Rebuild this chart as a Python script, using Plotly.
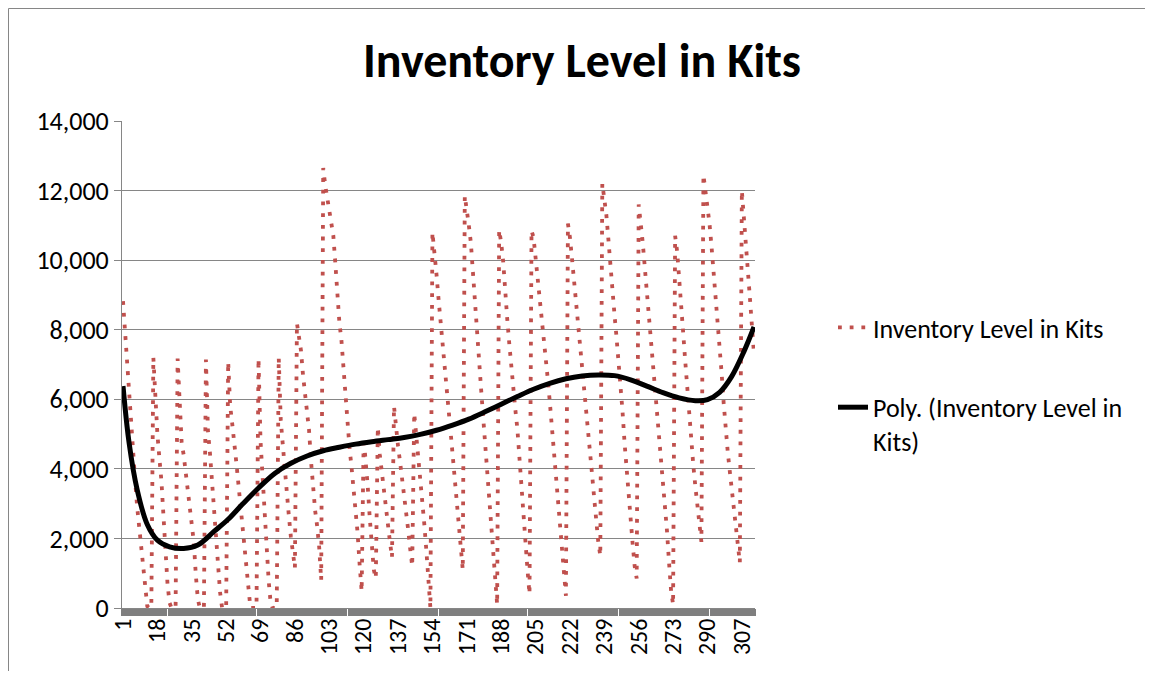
import plotly.graph_objects as go

days = list(range(1, 314))

inventory = [
    8820, 7900, 7200, 6300, 5500, 4500, 3650, 2900, 2300, 1800,
    1150, 500, 50, 0, 0, 7200, 5950, 5000, 4300, 3650,
    2650, 1550, 700, 150, 0, 0, 0, 7170, 5700, 4750,
    4400, 3900, 3300, 2850, 2300, 1900, 950, 250, 0, 0,
    0, 7140, 5100, 4450, 3600, 2700, 1900, 1150, 450, 0,
    0, 0, 7080, 5800, 5300, 4850, 4200, 3600, 2950, 2350,
    1700, 1050, 400, 0, 0, 0, 0, 7170, 4800, 3800,
    2700, 1700, 800, 150, 0, 0, 0, 7200, 5400, 4700,
    3950, 3250, 2650, 2050, 1600, 1150, 8190, 7800, 7400, 6700,
    6100, 5600, 5100, 4200, 3400, 2800, 2350, 1750, 800, 12650,
    12150, 11800, 11450, 11000, 10700, 9900, 9000, 8200, 7700, 6900,
    6000, 5200, 4600, 4050, 3450, 2900, 2150, 1250, 480, 4900,
    4300, 3500, 2600, 1800, 1100, 850, 5200, 4400, 3950, 3400,
    2900, 2400, 1900, 1450, 5800, 5100, 4650, 4200, 3750, 3250,
    2750, 2250, 1700, 1200, 5600, 5000, 4400, 3750, 3050, 2400,
    1650, 700, 0, 10800, 10300, 9600, 8900, 8300, 7700, 7050,
    6400, 5750, 5050, 4400, 3700, 3000, 2350, 1700, 1100, 11850,
    11500, 11000, 10500, 9600, 8800, 8000, 7150, 6350, 5550, 4750,
    4000, 3250, 2550, 1800, 900, 100, 10870, 10500, 9950, 9000,
    8300, 7600, 6900, 6300, 5700, 5150, 4300, 3400, 2600, 1900,
    1100, 400, 10850, 10650, 10100, 9550, 9000, 8500, 7900, 7250,
    6600, 5950, 5250, 4500, 3800, 3050, 2300, 1600, 900, 350,
    11050, 10650, 10050, 9450, 8800, 8150, 7550, 6950, 6300, 5700,
    5100, 4450, 3800, 3150, 2450, 1900, 1500, 12200, 11750, 11300,
    10600, 9800, 9100, 8450, 7800, 7150, 6500, 5650, 4750, 3950,
    3200, 2500, 1850, 1200, 850, 11600, 11100, 10500, 9800, 9100,
    8500, 7900, 7250, 6550, 5850, 5150, 4450, 3700, 2950, 2200,
    1300, 500, 100, 10700, 10250, 9550, 8700, 7900, 7100, 6300,
    5600, 4850, 4100, 3500, 2950, 2450, 1900, 12450, 12000, 11550,
    11050, 10400, 9700, 9000, 8350, 7550, 6750, 5900, 5100, 4500,
    3950, 3400, 2850, 2250, 1700, 1300, 12000, 11300, 10450, 9600,
    8900, 8100, 7300,
]

trend_days = [1, 4, 8, 13, 18, 24, 31, 38, 46, 53, 60, 68, 76, 84, 92, 100,
              108, 116, 124, 132, 140, 148, 156, 164, 172, 180, 188, 196, 204,
              212, 220, 228, 236, 244, 252, 260, 268, 276, 284, 290, 296, 302,
              308, 313]
trend_values = [6380, 4750, 3400, 2400, 1950, 1760, 1710, 1810, 2200, 2550,
                2980, 3450, 3870, 4160, 4370, 4520, 4620, 4710, 4780, 4840,
                4900, 4990, 5110, 5260, 5430, 5640, 5860, 6080, 6290, 6460,
                6590, 6670, 6700, 6680, 6560, 6380, 6190, 6040, 5960, 5990,
                6200, 6660, 7370, 8080]

tick_labels = [1, 18, 35, 52, 69, 86, 103, 120, 137, 154, 171, 188, 205, 222,
               239, 256, 273, 290, 307]
y_ticks = [0, 2000, 4000, 6000, 8000, 10000, 12000, 14000]

FONT = "Carlito, Lato, 'Liberation Sans', sans-serif"
GRAY = "#868686"

# figure is drawn inside the page's 8px body margin
W, H = 1137, 663
L, R, T, B = 114, 390, 113, 63
PW, PH = W - L - R, H - T - B

fig = go.Figure()
fig.add_trace(go.Scatter(
    x=days, y=inventory, mode="lines", name="Inventory Level in Kits",
    line=dict(color="#C0504D", width=3.8, dash="3.8px,7.9px"),
    legendgroup="a",
))
fig.add_trace(go.Scatter(
    x=trend_days, y=trend_values, mode="lines",
    name="Poly. (Inventory Level in<br>Kits)",
    line=dict(color="black", width=5, shape="spline", smoothing=1.0),
    legendgroup="b",
))

fig.update_layout(
    width=W, height=H,
    margin=dict(l=L, r=R, t=T, b=B),
    paper_bgcolor="white", plot_bgcolor="white",
    font=dict(family=FONT, size=24, color="black"),
    title=dict(text="<b>Inventory Level in Kits</b>", x=574 / W, xref="container",
               xanchor="center", y=1 - 52 / H, yref="container", yanchor="middle",
               font=dict(family=FONT, size=48, color="black")),
    legend=dict(x=(825 - L) / PW, xanchor="left", y=(600 - 296) / PH, yanchor="top",
                font=dict(family=FONT, size=26, color="black"),
                traceorder="grouped", tracegroupgap=43, valign="top",
                bgcolor="rgba(0,0,0,0)"),
    shapes=[dict(type="rect", xref="paper", yref="paper",
                 x0=(0.5 - L) / PW, x1=2.0, y0=-0.5, y1=(600 - 0.5) / PH,
                 line=dict(color=GRAY, width=1), fillcolor="rgba(0,0,0,0)",
                 layer="below")],
)

fig.update_xaxes(
    range=[0.5, 313.5], tickmode="array", tickvals=tick_labels,
    ticktext=[str(t) for t in tick_labels], tickangle=-90,
    ticks="", showgrid=False, zeroline=False,
    showline=True, linecolor=GRAY, linewidth=1,
    tickfont=dict(family=FONT, size=24, color="black"),
    minor=dict(ticks="outside", ticklen=7, tickcolor="#7f7f7f", tickwidth=1.5,
               tick0=0.5, dtick=1, showgrid=False),
)
fig.update_yaxes(
    range=[0, 14000], tickmode="array", tickvals=y_ticks,
    ticktext=[f"{v:,}" for v in y_ticks],
    ticks="outside", ticklen=7, tickcolor=GRAY,
    showgrid=True, gridcolor=GRAY, gridwidth=1, zeroline=False,
    showline=True, linecolor=GRAY, linewidth=1,
    tickfont=dict(family=FONT, size=26, color="black"),
)

fig.write_html("out.html")
